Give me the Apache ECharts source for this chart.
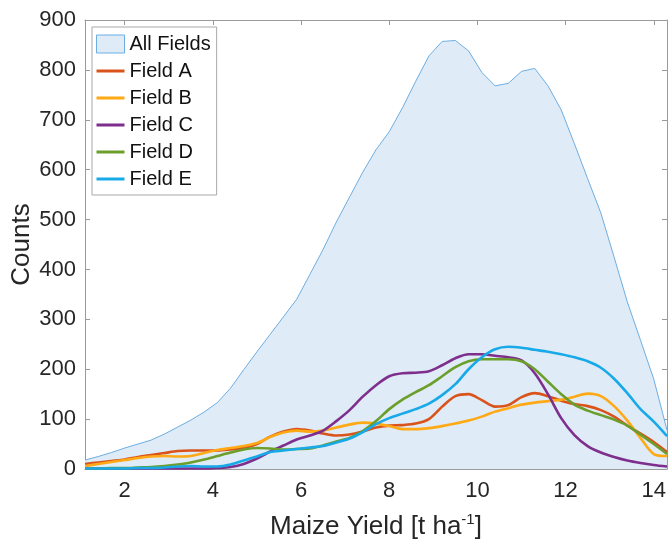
<!DOCTYPE html>
<html>
<head>
<meta charset="utf-8">
<script src="https://cdn.jsdelivr.net/npm/echarts@6/dist/echarts.min.js"></script>
<style>
html,body{margin:0;padding:0;background:#fff;}
#chart{width:668px;height:543px;}
</style>
</head>
<body>
<div id="chart"></div>
<script>
// Yield grid (t ha^-1)
const yieldX = [1.1,1.4,1.7,2.0,2.3,2.6,2.9,3.2,3.5,3.8,4.1,4.4,4.7,5.0,5.3,5.6,5.9,6.2,6.5,6.8,7.1,7.4,7.7,8.0,8.3,8.6,8.9,9.2,9.5,9.8,10.1,10.4,10.7,11.0,11.3,11.6,11.9,12.2,12.5,12.8,13.1,13.4,13.7,14.0,14.3];
const allFields = [18,25,33,42,50,58,70,84,98,114,133,162,199,235,270,305,340,390,440,495,545,595,640,676,724,777,828,857,859,838,795,768,773,797,803,768,720,652,582,513,425,335,258,180,78];
const fieldA = [10,13,16,19,24,28,32,36,37,37,37,39,42,50,65,75,80,77,71,67,69,75,83,87,88,91,100,125,146,150,138,125,128,144,152,146,137,130,126,118,105,87,71,54,34];
const fieldB = [6,10,14,18,22,25,26,25,26,32,38,42,46,52,64,73,77,75,77,83,89,93,91,86,80,80,82,86,91,97,105,115,122,129,133,136,139,145,151,146,126,97,62,30,26];
const fieldC = [1,1,1,1,1,1,1,1,1,1,2,4,10,21,35,47,59,67,77,96,118,145,168,186,192,193,196,208,222,230,230,227,224,218,192,150,102,68,46,33,24,17,12,8,5];
const fieldD = [1,1,2,2,3,4,6,9,13,19,26,33,39,42,41,39,40,41,47,55,62,76,96,120,139,154,168,186,204,216,220,220,220,216,200,175,150,129,117,108,99,87,69,50,30];
const fieldE = [1,1,1,1,2,2,3,5,6,5,5,9,17,25,34,37,40,43,46,53,61,74,90,102,111,120,131,148,170,200,224,240,245,243,239,235,230,224,216,203,181,152,120,95,66];
const seriesNames = ['All Fields','Field A','Field B','Field C','Field D','Field E'];
const xTicks = [2,4,6,8,10,12,14];

const colors = {
  'Field A':'#d9531a',
  'Field B':'#ffa915',
  'Field C':'#7e2f8e',
  'Field D':'#6b9e2b',
  'Field E':'#17a9e8'
};
const pair = arr => yieldX.map((x,i)=>[x,arr[i]]);
const fieldData = {'Field A':fieldA,'Field B':fieldB,'Field C':fieldC,'Field D':fieldD,'Field E':fieldE};

const FONT = '"Liberation Sans", Arial, Helvetica, sans-serif';
const axisGrey = '#9a9a9a';
const lineIcon = 'path://M0,0 L28,0 L28,3 L0,3 Z';

const chart = echarts.init(document.getElementById('chart'), null, {renderer:'canvas'});

const series = [{
  name:'All Fields', type:'line', data:pair(allFields), symbol:'none', smooth:false,
  lineStyle:{color:'#5ea6df', width:0.9},
  areaStyle:{color:'#dfebf6', opacity:1},
  itemStyle:{color:'#dfebf6'},
  z:2
}];
seriesNames.slice(1).forEach(n=>{
  series.push({
    name:n, type:'line', data:pair(fieldData[n]), symbol:'none', smooth:0.3,
    lineStyle:{color:colors[n], width:2.6},
    itemStyle:{color:colors[n]},
    z:3
  });
});

const option = {
  animation:false,
  backgroundColor:'#fff',
  grid:{left:85, right:1, top:20, bottom:74, outerBoundsMode:'none', containLabel:false},
  legend:{
    orient:'vertical', left:92, top:27,
    padding:[7,6,6,4],
    itemWidth:28, itemHeight:18, itemGap:7, itemTextGap:4,
    symbolKeepAspect:true,
    backgroundColor:'#fff', borderColor:'#a8a8a8', borderWidth:1,
    textStyle:{fontFamily:FONT, fontSize:20, color:'#111', lineHeight:18},
    data:[
      {name:'All Fields', icon:'rect', itemStyle:{color:'#dfebf6', borderColor:'#6aaee2', borderWidth:1}},
      {name:'Field A', icon:lineIcon},{name:'Field B', icon:lineIcon},{name:'Field C', icon:lineIcon},
      {name:'Field D', icon:lineIcon},{name:'Field E', icon:lineIcon}
    ]
  },
  xAxis:[{
    type:'value', min:1.1, max:14.3, position:'bottom',
    name:'Maize Yield [t ha{sup|-1}]', nameLocation:'middle', nameGap:43, nameMoveOverlap:false,
    nameTextStyle:{fontFamily:FONT, fontSize:26, color:'#262626', lineHeight:30,
      rich:{sup:{fontFamily:FONT, fontSize:15, lineHeight:15, verticalAlign:'top', color:'#262626'}}},
    axisLine:{show:true, onZero:false, lineStyle:{color:axisGrey, width:1}},
    axisTick:{show:true, inside:true, length:5, customValues:xTicks, lineStyle:{color:axisGrey}},
    axisLabel:{show:true, customValues:xTicks, margin:11, fontFamily:FONT, fontSize:22, color:'#262626', hideOverlap:false},
    splitLine:{show:false}
  },{
    type:'value', min:1.1, max:14.3, position:'top',
    axisLine:{show:true, onZero:false, lineStyle:{color:axisGrey, width:1}},
    axisTick:{show:true, inside:true, length:5, customValues:xTicks, lineStyle:{color:axisGrey}},
    axisLabel:{show:false}, splitLine:{show:false}
  }],
  yAxis:[{
    type:'value', min:0, max:900, interval:100, position:'left',
    name:'Counts', nameLocation:'middle', nameGap:50, nameMoveOverlap:false,
    nameTextStyle:{fontFamily:FONT, fontSize:26, color:'#262626'},
    axisLine:{show:true, onZero:false, lineStyle:{color:axisGrey, width:1}},
    axisTick:{show:true, inside:true, length:5, lineStyle:{color:axisGrey}},
    axisLabel:{margin:9, fontFamily:FONT, fontSize:22, color:'#262626'},
    splitLine:{show:false}
  },{
    type:'value', min:0, max:900, interval:100, position:'right',
    axisLine:{show:true, onZero:false, lineStyle:{color:axisGrey, width:1}},
    axisTick:{show:true, inside:true, length:5, lineStyle:{color:axisGrey}},
    axisLabel:{show:false}, splitLine:{show:false}
  }],
  series:series
};
chart.setOption(option);
</script>
</body>
</html>
